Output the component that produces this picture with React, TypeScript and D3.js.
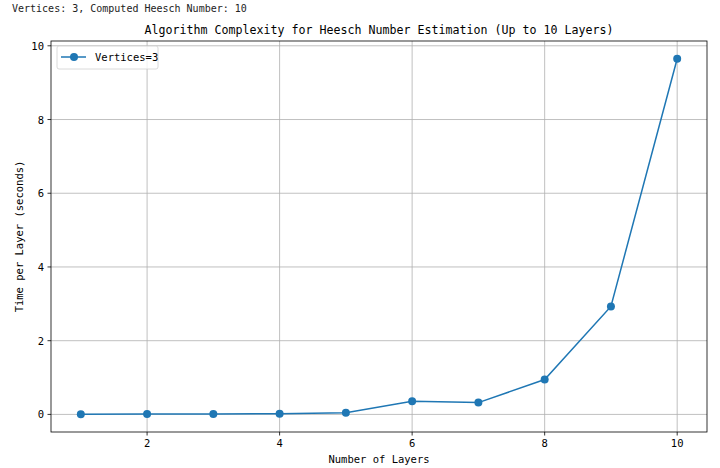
import React from "react";
import * as d3 from "d3";

const layers = [1, 2, 3, 4, 5, 6, 7, 8, 9, 10];
const times = [0.005, 0.008, 0.012, 0.02, 0.046, 0.354, 0.32, 0.945, 2.93, 9.65];
const xTicks = [2, 4, 6, 8, 10];
const yTicks = [0, 2, 4, 6, 8, 10];
const headerText = "Vertices: 3, Computed Heesch Number: 10";
const titleText = "Algorithm Complexity for Heesch Number Estimation (Up to 10 Layers)";
const xLabel = "Number of Layers";
const yLabel = "Time per Layer (seconds)";
const seriesName = "Vertices=3";

export default function App() {
  const W = 720, H = 468;
  const L = 51, R = 707, T = 41, B = 432;
  const color = "#1f77b4";
  const font = "'DejaVu Sans Mono', 'Liberation Mono', monospace";
  const x = d3.scaleLinear().domain([0.55, 10.45]).range([L, R]);
  const y = d3.scaleLinear().domain([-0.477, 10.13]).range([B, T]);
  const line = d3.line<number>().x((_, i) => x(layers[i])).y((d) => y(d));
  return (
    <svg width={W} height={H} style={{ position: "absolute", left: 0, top: 0, background: "#fff" }}>
      <text x={12} y={12} fontFamily={font} fontSize={10} fill="#222">{headerText}</text>
      <text x={(L + R) / 2} y={34} textAnchor="middle" fontFamily={font} fontSize={12.5}
        textLength={469} lengthAdjust="spacingAndGlyphs" fill="#000">{titleText}</text>
      {xTicks.map((t) => (
        <line key={"gx" + t} x1={x(t)} x2={x(t)} y1={T} y2={B} stroke="#b0b0b0" strokeWidth={0.8} />
      ))}
      {yTicks.map((t) => (
        <line key={"gy" + t} x1={L} x2={R} y1={y(t)} y2={y(t)} stroke="#b0b0b0" strokeWidth={0.8} />
      ))}
      <path d={line(times) || ""} fill="none" stroke={color} strokeWidth={1.5} />
      {times.map((v, i) => (
        <circle key={"p" + i} cx={x(layers[i])} cy={y(v)} r={4} fill={color} />
      ))}
      <rect x={L} y={T} width={R - L} height={B - T} fill="none" stroke="#000" strokeWidth={0.8} />
      {xTicks.map((t) => (
        <g key={"tx" + t}>
          <line x1={x(t)} x2={x(t)} y1={B} y2={B + 3.5} stroke="#000" strokeWidth={0.8} />
          <text x={x(t)} y={B + 15} textAnchor="middle" fontFamily={font} fontSize={10.5} fill="#000">{t}</text>
        </g>
      ))}
      {yTicks.map((t) => (
        <g key={"ty" + t}>
          <line x1={L - 3.5} x2={L} y1={y(t)} y2={y(t)} stroke="#000" strokeWidth={0.8} />
          <text x={L - 7} y={y(t) + 4} textAnchor="end" fontFamily={font} fontSize={10.5} fill="#000">{t}</text>
        </g>
      ))}
      <text x={(L + R) / 2} y={463} textAnchor="middle" fontFamily={font} fontSize={10.5} fill="#000">{xLabel}</text>
      <text transform={`translate(23, ${(T + B) / 2}) rotate(-90)`} textAnchor="middle" fontFamily={font}
        fontSize={10.5} fill="#000">{yLabel}</text>
      <g>
        <rect x={57} y={46} width={101} height={23} rx={2} fill="#fff" fillOpacity={0.8} stroke="#d0d0d0" strokeWidth={0.8} />
        <line x1={61} x2={86} y1={57} y2={57} stroke={color} strokeWidth={1.5} />
        <circle cx={74} cy={57} r={4} fill={color} />
        <text x={95} y={61} fontFamily={font} fontSize={10.5} fill="#000">{seriesName}</text>
      </g>
    </svg>
  );
}
